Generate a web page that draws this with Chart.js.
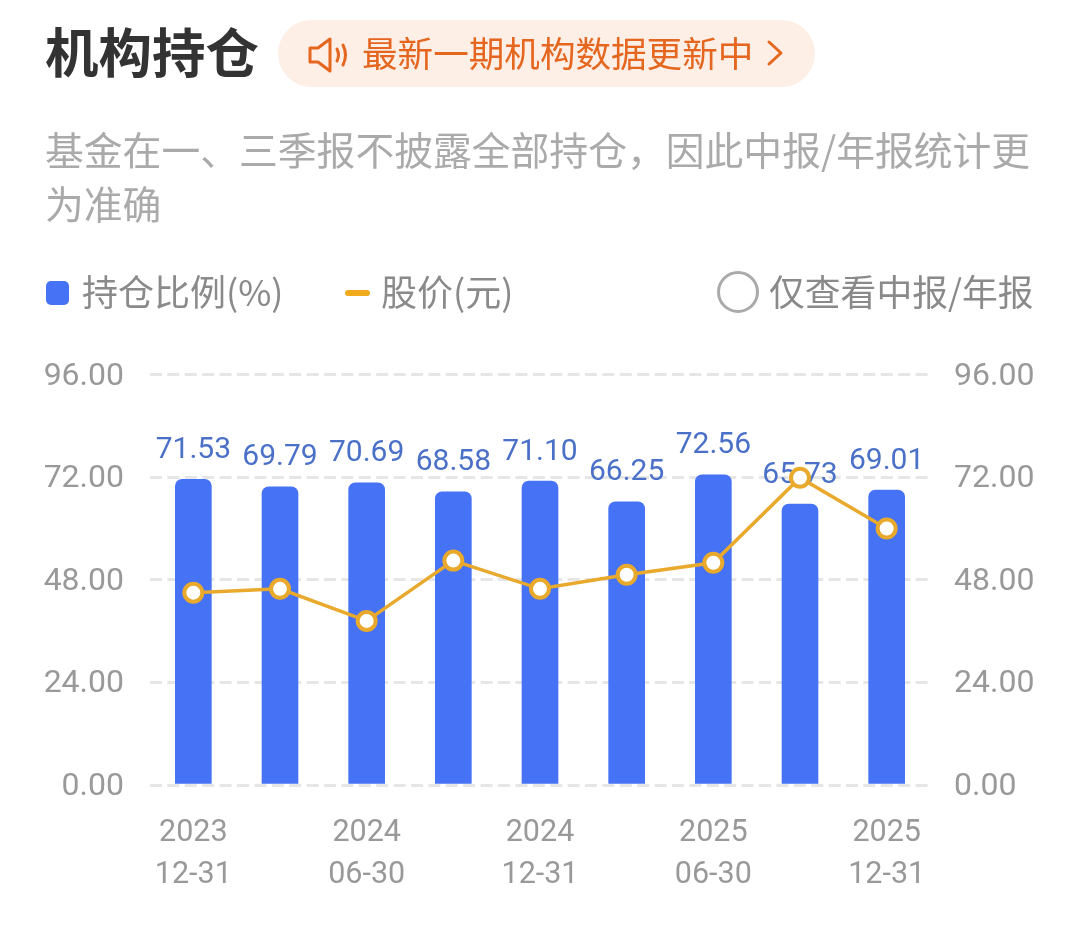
<!DOCTYPE html>
<html lang="zh">
<head>
<meta charset="utf-8">
<title>机构持仓</title>
<script src="https://cdn.jsdelivr.net/npm/chart.js@4"></script>
<style>
  html, body { margin: 0; padding: 0; background: #fff; }
  body { width: 1080px; height: 926px; position: relative; overflow: hidden; font-family: "Noto Sans CJK SC", sans-serif; }
  #chart { position: absolute; left: 0; top: 0; }
  .abs { position: absolute; white-space: nowrap; }
  #title { left: 45px; top: 12px; font-size: 53.5px; line-height: 76px; font-weight: 700; color: #333; }
  #pill { left: 278px; top: 20px; width: 537px; height: 67px; border-radius: 34px; background: #fdeee6; }
  #pillText { left: 362px; top: 26px; font-size: 35.6px; line-height: 52px; color: #e5661f; }
  #note { left: 45px; top: 121px; width: 1010px; font-size: 38.8px; line-height: 54px; color: #aaa; white-space: normal; }
  .legendText { top: 264px; font-size: 36px; line-height: 52px; color: #8a8a8a; }
  #swatchBar { left: 46px; top: 281px; width: 23px; height: 24px; border-radius: 5px; background: #4672f5; }
  #swatchLine { left: 345px; top: 290px; width: 25px; height: 6px; border-radius: 3px; background: #f0ab1c; }
  #radio { left: 717px; top: 271px; width: 36px; height: 36px; border: 3px solid #aaa; border-radius: 50%; }
</style>
</head>
<body>
<canvas id="chart" width="1080" height="926"></canvas>
<div class="abs" id="title">机构持仓</div>
<div class="abs" id="pill"></div>
<svg class="abs" style="left:306px;top:36px" width="46" height="38" viewBox="0 0 46 38" fill="none" stroke="#e5661f" stroke-width="3" stroke-linejoin="round" stroke-linecap="round">
  <path d="M4 12 H12 L24 3 V35 L12 26 H4 Z"/>
  <path d="M31 13 Q34 19 31 25"/>
  <path d="M37 9 Q42 19 37 29"/>
</svg>
<div class="abs" id="pillText">最新一期机构数据更新中</div>
<svg class="abs" style="left:764px;top:39px" width="22" height="30" viewBox="0 0 22 30" fill="none" stroke="#e5661f" stroke-width="3" stroke-linecap="round" stroke-linejoin="round">
  <path d="M5 3 L17 14 L5 25"/>
</svg>
<div class="abs" id="note">基金在一、三季报不披露全部持仓，因此中报/年报统计更为准确</div>
<div class="abs" id="swatchBar"></div>
<div class="abs legendText" style="left:82px">持仓比例(%)</div>
<div class="abs" id="swatchLine"></div>
<div class="abs legendText" style="left:381px">股价(元)</div>
<div class="abs" id="radio"></div>
<div class="abs legendText" style="left:769px;font-size:35.8px">仅查看中报/年报</div>
<script>
// Values
const reportDates = ["2023 12-31", "2024 03-31", "2024 06-30", "2024 09-30", "2024 12-31", "2025 03-31", "2025 06-30", "2025 09-30", "2025 12-31"];
const holdingRatio = [71.53, 69.79, 70.69, 68.58, 71.10, 66.25, 72.56, 65.73, 69.01];
const stockPrice = [45.0, 45.9, 38.4, 52.5, 45.9, 49.2, 52.0, 71.9, 60.0];
const axisTicks = [0, 24, 48, 72, 96];

const LABEL_FONT = '30px Roboto';

// Value labels above the bars, drawn before the line so the line sits on top
const barValueLabels = {
    id: 'barValueLabels',
    afterDatasetDraw(chart, args) {
        if (args.index !== 1) return;
        const { ctx } = chart;
        ctx.save();
        ctx.font = LABEL_FONT;
        ctx.fillStyle = '#4a70c8';
        ctx.textAlign = 'center';
        ctx.textBaseline = 'middle';
        args.meta.data.forEach((bar, i) => {
            ctx.fillText(holdingRatio[i].toFixed(2), bar.x, bar.y - 29);
        });
        ctx.restore();
    }
};

function valueAxis(position, padding, showGrid) {
    return {
        type: 'linear',
        position: position,
        min: 0,
        max: 96,
        afterBuildTicks: axis => { axis.ticks = axisTicks.map(v => ({ value: v })); },
        afterFit: axis => { axis.width = 150; },
        border: { display: false },
        grid: {
            display: showGrid,
            drawTicks: false,
            color: '#e6e6e6',
            lineWidth: 3
        },
        ticks: {
            padding: padding,
            labelOffset: 2,
            color: '#999',
            font: { family: 'Roboto', size: 32 },
            callback: v => v.toFixed(2)
        }
    };
}

const yLeft = valueAxis('left', 26, true);
yLeft.border = { display: false, dash: [12, 5.4] };
const yRight = valueAxis('right', 24, false);

new Chart(document.getElementById('chart').getContext('2d'), {
    data: {
        labels: reportDates,
        datasets: [
            {
                type: 'line',
                label: '股价(元)',
                data: stockPrice,
                yAxisID: 'yRight',
                borderColor: '#e8a92c',
                borderWidth: 3.5,
                tension: 0,
                pointRadius: 9,
                pointBorderWidth: 4,
                pointBackgroundColor: '#fff',
                pointBorderColor: '#e8a92c'
            },
            {
                type: 'bar',
                label: '持仓比例(%)',
                data: holdingRatio,
                yAxisID: 'yLeft',
                backgroundColor: '#4672f5',
                barThickness: 36,
                borderRadius: { topLeft: 7, topRight: 7, bottomLeft: 0, bottomRight: 0 },
                borderSkipped: false
            }
        ]
    },
    options: {
        responsive: false,
        animation: false,
        devicePixelRatio: 1,
        layout: { padding: { top: 374.7 } },
        scales: {
            x: {
                afterFit: axis => { axis.height = 141; },
                border: { display: false },
                grid: { display: false, drawTicks: false },
                ticks: {
                    autoSkip: false,
                    maxRotation: 0,
                    padding: 27,
                    color: '#999',
                    font: { family: 'Roboto', size: 30.5, lineHeight: 1.38 },
                    // every second report date is labelled, year above month-day
                    callback(value, index) {
                        return index % 2 === 0 ? reportDates[index].split(' ') : '';
                    }
                }
            },
            yLeft: yLeft,
            yRight: yRight
        },
        plugins: {
            legend: { display: false },
            tooltip: { enabled: false }
        }
    },
    plugins: [barValueLabels]
});
</script>
</body>
</html>
